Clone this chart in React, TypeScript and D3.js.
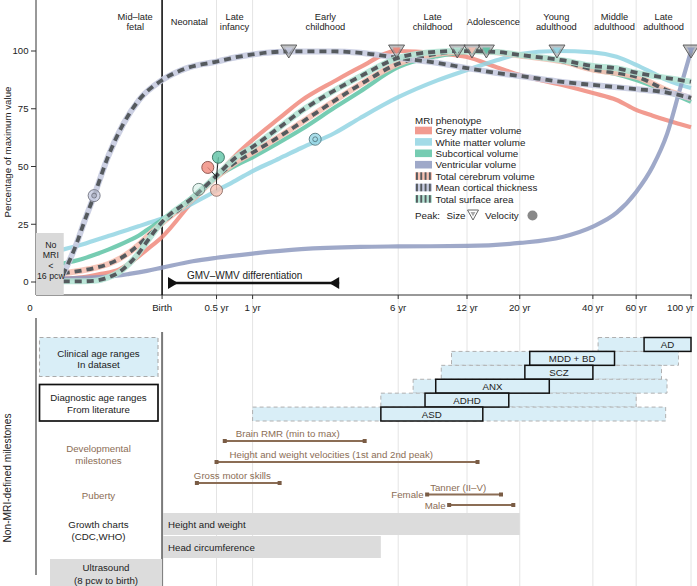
import { useEffect, useRef } from 'react';
import * as d3 from 'd3';

const W = 697;
const H = 586;

// ages are years after birth (negative = prenatal); x axis is log post-conception days
const AGE_MIN = -0.527;
const AGE_MAX = 100;

const stageNames = [['Mid–late', 'fetal'], ['Neonatal'], ['Late', 'infancy'], ['Early', 'childhood'], ['Late', 'childhood'], ['Adolescence'], ['Young', 'adulthood'], ['Middle', 'adulthood'], ['Late', 'adulthood']];
const stageBounds = [-0.3, 0, 0.5, 1, 6, 12, 20, 40, 60, 100];

const tickAges = [0, 0.5, 1, 6, 12, 20, 40, 60, 100];
const tickLabels = ['Birth', '0.5 yr', '1 yr', '6 yr', '12 yr', '20 yr', '40 yr', '60 yr', '100 yr'];
const gridAges = [0.5, 1, 6, 12, 20, 40, 60, 100];
const yTicks = [0, 25, 50, 75, 100];

// [age, % of max]
const gmv = [[-0.46, 1.5], [-0.4, 2], [-0.33, 3.5], [-0.25, 5.5], [-0.2, 8], [-0.1, 14], [0, 19.5], [0.25, 35], [0.5, 46], [0.75, 55], [1, 61.5], [1.5, 71], [2, 78.5], [3, 87], [4, 93], [5.9, 100], [9, 99], [12, 97.4], [16, 93], [20, 89.6], [30, 85.3], [40, 81.8], [50, 78.8], [60, 74.5], [70, 72], [80, 70], [90, 68.4], [100, 67]];
const wmv = [[-0.46, 14], [-0.4, 16.2], [-0.35, 18.2], [-0.3, 19.9], [-0.25, 21.4], [-0.2, 22.8], [-0.15, 24.1], [-0.1, 25.3], [0, 27.5], [0.1, 30], [0.25, 34], [0.5, 39.5], [0.75, 44], [1, 48], [1.5, 53.5], [2, 58], [3, 64.5], [4, 71], [6, 80], [9, 87.4], [12, 91.8], [16, 96], [20, 98.7], [28.5, 100], [40, 99.4], [50, 97.5], [60, 94], [70, 90.5], [80, 87.4], [100, 84]];
const scv = [[-0.46, 8], [-0.4, 10], [-0.35, 12], [-0.3, 14], [-0.25, 16], [-0.2, 18], [-0.15, 20], [-0.1, 22.5], [0, 27], [0.25, 37], [0.5, 45.5], [0.75, 50.5], [1, 54], [1.5, 60.5], [2, 66], [3, 75.5], [4, 82.5], [6, 93], [9, 97.8], [12, 99.5], [14.5, 100], [20, 98.3], [30, 95.5], [40, 91.8], [50, 90], [60, 87.4], [80, 82.4], [100, 78]];
const vv = [[-0.46, 1.5], [-0.3, 2.3], [-0.2, 3.5], [-0.1, 4.8], [0, 6.2], [0.25, 9], [0.5, 10.5], [1, 12.3], [2, 14.2], [4, 15.2], [6, 15.4], [12, 15.6], [20, 16.9], [30, 19.5], [40, 24], [50, 30], [60, 39], [70, 50], [80, 64], [90, 83], [100, 100]];
const tcv = [[-0.46, 3.8], [-0.4, 5], [-0.35, 6.2], [-0.3, 7.8], [-0.25, 10], [-0.2, 12.8], [-0.15, 16], [-0.1, 19.5], [0, 25.5], [0.25, 36], [0.5, 45.5], [0.75, 52], [1, 56], [1.5, 63], [2, 69], [3, 78.5], [4, 85.5], [6, 94.5], [9, 98.8], [12.6, 100], [16, 99.5], [20, 98], [30, 95.5], [40, 92], [50, 90.5], [60, 88.9], [80, 83], [100, 79.5]];
const tsa = [[-0.46, 0.3], [-0.4, 0.3], [-0.35, 0.6], [-0.3, 2], [-0.25, 4.3], [-0.2, 8], [-0.15, 12.4], [-0.1, 17.5], [0, 26], [0.25, 36.5], [0.5, 46], [0.75, 54], [1, 58.5], [1.5, 67], [2, 74], [3, 83], [4, 89], [6, 97], [9, 99.7], [10.9, 100], [16, 99.6], [20, 98.3], [30, 96], [40, 93.5], [50, 92.5], [60, 90.6], [80, 88.3], [100, 86.7]];
const mct = [[-0.46, 3], [-0.42, 16], [-0.39, 27], [-0.357, 37.4], [-0.3, 54.5], [-0.23, 68.5], [-0.145, 79], [0, 87.4], [0.19, 92.5], [0.5, 95.4], [0.75, 97.3], [1, 98.5], [1.7, 99.8], [3, 99.8], [4, 99.2], [6, 97], [9, 94.8], [12, 92.6], [16, 90.5], [20, 89.2], [30, 86.6], [40, 85.3], [60, 83.5], [80, 82], [100, 79.7]];

const phenotypes = ['Grey matter volume', 'White matter volume', 'Subcortical volume', 'Ventricular volume', 'Total cerebrum volume', 'Mean cortical thickness', 'Total surface area'];
const phenoKeys = ['gmv', 'wmv', 'scv', 'vv', 'tcv', 'mct', 'tsa'];
const phenoColors = ['#f0897c', '#93d5e3', '#5ec3a5', '#8e9ac0', '#f6c1b2', '#c6cbe0', '#b4e3d4'];
const phenoDashed = [false, false, false, false, true, true, true];
const phenoData = [gmv, wmv, scv, vv, tcv, mct, tsa];

// size peaks (triangles): [key, age]
const sizePeaks = [['mct', 1.7], ['gmv', 5.9], ['tsa', 10.9], ['tcv', 12.6], ['scv', 14.5], ['wmv', 28.5], ['vv', 100]];
// velocity peaks (circles): [key, age, value, anchorAge, anchorValue]
const velocityPeaks = [
  ['mct', -0.357, 37.4, null, null],
  ['tsa', 0.309, 40.1, null, null],
  ['gmv', 0.402, 49.6, 0.5, 45.5],
  ['scv', 0.522, 54, 0.5, 45.5],
  ['tcv', 0.5, 39.7, 0.5, 45.5],
  ['wmv', 2.38, 61.8, null, null]
];

const diffRange = [0.043, 3.16];

const disorders = ['AD', 'MDD + BD', 'SCZ', 'ANX', 'ADHD', 'ASD'];
const datasetRanges = [[42, 96], [10.3, 89], [9.3, 76], [7, 80], [5, 60], [1, 79]];
const literatureRanges = [[64.6, 100], [22, 49], [21, 40], [8.8, 26.5], [7.9, 18], [5, 14]];

const milestoneNames = ['Brain RMR (min to max)', 'Height and weight velocities (1st and 2nd peak)', 'Gross motor skills'];
const milestoneRanges = [[0.6, 4.2], [0.5, 13.3], [0.29, 1.5]];
const tannerLabels = ['Female', 'Male'];
const tannerRanges = [[8.07, 16.7], [10.06, 18.8]];
const growthNames = ['Height and weight', 'Head circumference'];
const growthRanges = [[0, 20], [0, 5]];

const FONT = '"Liberation Sans", Arial, Helvetica, sans-serif';
const BROWN = '#8b6d55';
const FS = 9.7;

export default function App() {
  const svgRef = useRef<SVGSVGElement>(null);

  useEffect(() => {
    document.body.style.margin = '0';
    if (!svgRef.current) return;
    const svg = d3.select(svgRef.current);
    svg.selectAll('*').remove();
    svg.attr('font-family', FONT);

    const days = (a: number) => 280 + a * 365.25;
    const xs = d3.scaleLog().domain([days(AGE_MIN), days(AGE_MAX)]).range([36, 691]);
    const x = (a: number) => xs(days(a));
    const y = d3.scaleLinear().domain([0, 100]).range([282, 51]);
    const colorOf = (k: string) => phenoColors[phenoKeys.indexOf(k)];

    const AXIS_Y = 295;

    // grid lines through both panels
    svg.append('g').selectAll('line').data(gridAges).enter().append('line')
      .attr('x1', d => x(d)).attr('x2', d => x(d))
      .attr('y1', 0).attr('y2', H)
      .attr('stroke', '#e4e4e4').attr('stroke-width', 1);

    // stage labels
    stageNames.forEach((lines, i) => {
      const cx = (x(stageBounds[i]) + x(stageBounds[i + 1])) / 2;
      const t = svg.append('text').attr('text-anchor', 'middle').attr('font-size', 9.3).attr('fill', '#222');
      lines.forEach((l, j) => {
        t.append('tspan').attr('x', cx).attr('y', lines.length === 1 ? 24.5 : 19.5 + j * 10.5).text(l);
      });
    });

    // axes
    svg.append('line').attr('x1', 36).attr('x2', 36).attr('y1', 0).attr('y2', AXIS_Y).attr('stroke', '#333').attr('stroke-width', 1);
    svg.append('line').attr('x1', 36).attr('x2', 692).attr('y1', AXIS_Y).attr('y2', AXIS_Y).attr('stroke', '#333').attr('stroke-width', 1);
    svg.append('line').attr('x1', x(0)).attr('x2', x(0)).attr('y1', 0).attr('y2', AXIS_Y).attr('stroke', '#111').attr('stroke-width', 1.6);

    yTicks.forEach(v => {
      svg.append('line').attr('x1', 31).attr('x2', 36).attr('y1', y(v)).attr('y2', y(v)).attr('stroke', '#333');
      svg.append('text').attr('x', 28.5).attr('y', y(v)).attr('dy', '0.35em').attr('text-anchor', 'end')
        .attr('font-size', 9.6).attr('fill', '#222').text(v);
    });
    svg.append('text').attr('transform', 'rotate(-90)').attr('x', -152).attr('y', 11)
      .attr('text-anchor', 'middle').attr('font-size', FS).attr('fill', '#222').text('Percentage of maximum value');

    tickAges.forEach((a, i) => {
      svg.append('line').attr('x1', x(a)).attr('x2', x(a)).attr('y1', AXIS_Y).attr('y2', AXIS_Y + 4).attr('stroke', '#333');
      const last = i === tickAges.length - 1;
      svg.append('text').attr('x', last ? 694 : x(a)).attr('y', 310.5).attr('text-anchor', last ? 'end' : 'middle')
        .attr('font-size', FS).attr('fill', '#222').text(tickLabels[i]);
    });
    svg.append('text').attr('x', 30).attr('y', 310.5).attr('text-anchor', 'middle').attr('font-size', FS).attr('fill', '#222').text('0');

    // GMV-WMV differentiation
    const dy = 283;
    const dx1 = x(diffRange[0]);
    const dx2 = x(diffRange[1]);
    svg.append('line').attr('x1', dx1).attr('x2', dx2).attr('y1', dy).attr('y2', dy).attr('stroke', '#111').attr('stroke-width', 2.5);
    svg.append('path').attr('d', `M${dx1},${dy - 6}L${dx1},${dy + 6}L${dx1 + 10},${dy}Z`).attr('fill', '#111');
    svg.append('path').attr('d', `M${dx2},${dy - 6}L${dx2},${dy + 6}L${dx2 - 10},${dy}Z`).attr('fill', '#111');
    svg.append('text').attr('x', dx1 + 19).attr('y', dy - 4).attr('font-size', 10).attr('fill', '#222').text('GMV–WMV differentiation');

    // curves
    const line = d3.line<number[]>()
      .x(d => x(d[0]))
      .y(d => y(d[1]))
      .curve(d3.curveMonotoneX);

    const curves = svg.append('g');
    phenoData.forEach((data, i) => {
      if (phenoDashed[i]) return;
      curves.append('path').datum(data).attr('d', line)
        .attr('fill', 'none').attr('stroke', phenoColors[i]).attr('stroke-width', 4.2)
        .attr('stroke-opacity', 0.85);
    });
    phenoData.forEach((data, i) => {
      if (!phenoDashed[i]) return;
      curves.append('path').datum(data).attr('d', line)
        .attr('fill', 'none').attr('stroke', phenoColors[i]).attr('stroke-width', 6)
        .attr('stroke-opacity', 0.9);
      curves.append('path').datum(data).attr('d', line)
        .attr('fill', 'none').attr('stroke', '#555a5e').attr('stroke-width', 3.8)
        .attr('stroke-dasharray', '7,5');
    });

    // no-MRI box
    svg.append('rect').attr('x', x(AGE_MIN)).attr('y', 233)
      .attr('width', x(-0.46) - x(AGE_MIN) + 1).attr('height', AXIS_Y - 233)
      .attr('fill', '#d9d9d9');
    ['No', 'MRI', '<', '16 pcw'].forEach((l, i) => {
      svg.append('text').attr('x', (x(AGE_MIN) + x(-0.46)) / 2 + 1.5).attr('y', 248 + i * 10.3)
        .attr('text-anchor', 'middle').attr('font-size', 8.8).attr('fill', '#222').text(l);
    });

    // velocity peaks
    const vg = svg.append('g');
    velocityPeaks.forEach(p => {
      const [, a, v, aa, av] = p as [string, number, number, number | null, number | null];
      if (aa !== null && av !== null) {
        vg.append('line').attr('x1', x(a)).attr('y1', y(v)).attr('x2', x(aa)).attr('y2', y(av))
          .attr('stroke', '#111').attr('stroke-width', 0.9);
      }
    });
    velocityPeaks.forEach(p => {
      const [k, a, v] = p as [string, number, number];
      const c = colorOf(k);
      vg.append('circle').attr('cx', x(a)).attr('cy', y(v)).attr('r', 6)
        .attr('fill', c).attr('fill-opacity', k === 'tsa' ? 0.35 : 0.8)
        .attr('stroke', d3.color(c)!.darker(1.6).formatHex()).attr('stroke-width', 0.9);
      if (k === 'wmv' || k === 'mct') {
        vg.append('circle').attr('cx', x(a)).attr('cy', y(v)).attr('r', 2.4)
          .attr('fill', 'none').attr('stroke', d3.color(c)!.darker(1.8).formatHex()).attr('stroke-width', 0.8);
      }
    });

    // size peaks
    const tg = svg.append('g');
    sizePeaks.forEach(p => {
      const [k, a] = p as [string, number];
      const cx = x(a);
      const cy = y(100);
      tg.append('path').attr('d', `M${cx - 8},${cy - 6}L${cx + 8},${cy - 6}L${cx},${cy + 7}Z`)
        .attr('fill', '#7d7f84').attr('fill-opacity', 0.5).attr('stroke', '#555').attr('stroke-width', 0.9);
      tg.append('path').attr('d', `M${cx - 4},${cy - 3.5}L${cx + 4},${cy - 3.5}L${cx},${cy + 3}Z`)
        .attr('fill', colorOf(k)).attr('fill-opacity', 0.9);
    });

    // legend
    const lg = svg.append('g').attr('font-size', 9.8).attr('fill', '#222');
    lg.append('text').attr('x', 415).attr('y', 123.5).text('MRI phenotype');
    phenotypes.forEach((name, i) => {
      const ry = 130.5 + i * 11.4;
      lg.append('rect').attr('x', 415).attr('y', ry - 3.8).attr('width', 17).attr('height', 7.6)
        .attr('fill', phenoColors[i]).attr('fill-opacity', phenoDashed[i] ? 1 : 0.85);
      if (phenoDashed[i]) {
        for (let s = 0; s < 4; s++) {
          lg.append('rect').attr('x', 416 + s * 4.3).attr('y', ry - 3.8).attr('width', 1.9).attr('height', 7.6).attr('fill', '#555a5e');
        }
      }
      lg.append('text').attr('x', 435.5).attr('y', ry + 3.6).text(name);
    });
    lg.append('text').attr('x', 415).attr('y', 219).text('Peak:');
    lg.append('text').attr('x', 446.5).attr('y', 219).text('Size');
    lg.append('path').attr('d', 'M467.5,210L478.5,210L473,220Z').attr('fill', 'none').attr('stroke', '#666').attr('stroke-width', 1);
    lg.append('path').attr('d', 'M470.5,212L475.5,212L473,216.5Z').attr('fill', '#aaa');
    lg.append('text').attr('x', 485).attr('y', 219).text('Velocity');
    lg.append('circle').attr('cx', 532.5).attr('cy', 215.5).attr('r', 5).attr('fill', '#888');

    // ===== lower panel =====
    svg.append('line').attr('x1', 36).attr('x2', 36).attr('y1', 318).attr('y2', 575).attr('stroke', '#444').attr('stroke-width', 1.2);
    svg.append('line').attr('x1', x(0)).attr('x2', x(0)).attr('y1', 332).attr('y2', H).attr('stroke', '#7a7a7a').attr('stroke-width', 2);
    svg.append('text').attr('transform', 'rotate(-90)').attr('x', -478).attr('y', 11)
      .attr('text-anchor', 'middle').attr('font-size', 10.2).attr('fill', '#222').text('Non-MRI-defined milestones');

    // left labels
    svg.append('rect').attr('x', 39.5).attr('y', 337.5).attr('width', 118.5).attr('height', 39)
      .attr('fill', '#d9eef7').attr('stroke', '#aaa').attr('stroke-dasharray', '4,3').attr('stroke-width', 1.1);
    svg.append('rect').attr('x', 39.5).attr('y', 384.5).attr('width', 118.5).attr('height', 36.5)
      .attr('fill', '#fff').attr('stroke', '#111').attr('stroke-width', 1.7);
    const leftLabel = (lines: string[], y0: number, fill: string) => {
      lines.forEach((l, i) => {
        svg.append('text').attr('x', 98.5).attr('y', y0 + i * 11.5).attr('text-anchor', 'middle')
          .attr('font-size', FS).attr('fill', fill).text(l);
      });
    };
    leftLabel(['Clinical age ranges', 'In dataset'], 356.5, '#222');
    leftLabel(['Diagnostic age ranges', 'From literature'], 401, '#222');
    leftLabel(['Developmental', 'milestones'], 452, BROWN);
    leftLabel(['Puberty'], 499, BROWN);
    leftLabel(['Growth charts', '(CDC,WHO)'], 528, '#222');
    svg.append('rect').attr('x', 50).attr('y', 559).attr('width', x(0) - 50).attr('height', H - 559).attr('fill', '#dcdcdc');
    svg.append('text').attr('x', 106).attr('y', 571).attr('text-anchor', 'middle').attr('font-size', FS).attr('fill', '#222').text('Ultrasound');
    svg.append('text').attr('x', 106).attr('y', 583.5).attr('text-anchor', 'middle').attr('font-size', FS).attr('fill', '#222').text('(8 pcw to birth)');

    // disorders
    const band = d3.scaleBand<string>().domain(disorders).range([337.5, 421]).paddingInner(0);
    disorders.forEach((d, i) => {
      const [a0, a1] = datasetRanges[i];
      svg.append('rect').attr('x', x(a0)).attr('y', band(d)!).attr('width', x(a1) - x(a0)).attr('height', band.bandwidth())
        .attr('fill', '#d9eef7').attr('stroke', '#b0b0b0').attr('stroke-dasharray', '4,3').attr('stroke-width', 1);
    });
    disorders.forEach((d, i) => {
      const [a0, a1] = literatureRanges[i];
      svg.append('rect').attr('x', x(a0)).attr('y', band(d)!).attr('width', x(a1) - x(a0)).attr('height', band.bandwidth())
        .attr('fill', '#d9eef7').attr('stroke', '#111').attr('stroke-width', 1.5);
      svg.append('text').attr('x', (x(a0) + x(a1)) / 2).attr('y', band(d)! + band.bandwidth() / 2).attr('dy', '0.36em')
        .attr('text-anchor', 'middle').attr('font-size', FS).attr('fill', '#222').text(d);
    });

    // milestones
    const rangeLine = (a0: number, a1: number, ly: number) => {
      svg.append('line').attr('x1', x(a0)).attr('x2', x(a1)).attr('y1', ly).attr('y2', ly).attr('stroke', BROWN).attr('stroke-width', 1.8);
      [a0, a1].forEach(a => {
        svg.append('rect').attr('x', x(a) - 2).attr('y', ly - 2).attr('width', 4).attr('height', 4).attr('fill', '#7a5c45');
      });
    };
    const mLineY = [441, 462, 483];
    const mTextOffset = [11, 13, -3];
    milestoneNames.forEach((n, i) => {
      const [a0, a1] = milestoneRanges[i];
      rangeLine(a0, a1, mLineY[i]);
      svg.append('text').attr('x', x(a0) + mTextOffset[i]).attr('y', mLineY[i] - 4.5)
        .attr('font-size', FS).attr('fill', BROWN).text(n);
    });
    const tY = [494.5, 505];
    tannerLabels.forEach((n, i) => {
      const [a0, a1] = tannerRanges[i];
      rangeLine(a0, a1, tY[i]);
      svg.append('text').attr('x', x(a0) - 3.5).attr('y', tY[i] + 3.6).attr('text-anchor', 'end')
        .attr('font-size', FS).attr('fill', BROWN).text(n);
    });
    svg.append('text').attr('x', x(tannerRanges[0][0]) + 3).attr('y', 491).attr('font-size', FS).attr('fill', BROWN).text('Tanner (II–V)');

    // growth charts
    const gY = [513, 536];
    growthNames.forEach((n, i) => {
      const [a0, a1] = growthRanges[i];
      svg.append('rect').attr('x', x(a0) + 1).attr('y', gY[i]).attr('width', x(a1) - x(a0) - 1).attr('height', 22).attr('fill', '#dcdcdc');
      svg.append('text').attr('x', x(a0) + 6).attr('y', gY[i] + 15).attr('font-size', FS).attr('fill', '#222').text(n);
    });
  }, []);

  return (
    <div style={{ width: W, height: H }}>
      <svg ref={svgRef} width={W} height={H} style={{ display: 'block' }} />
    </div>
  );
}
